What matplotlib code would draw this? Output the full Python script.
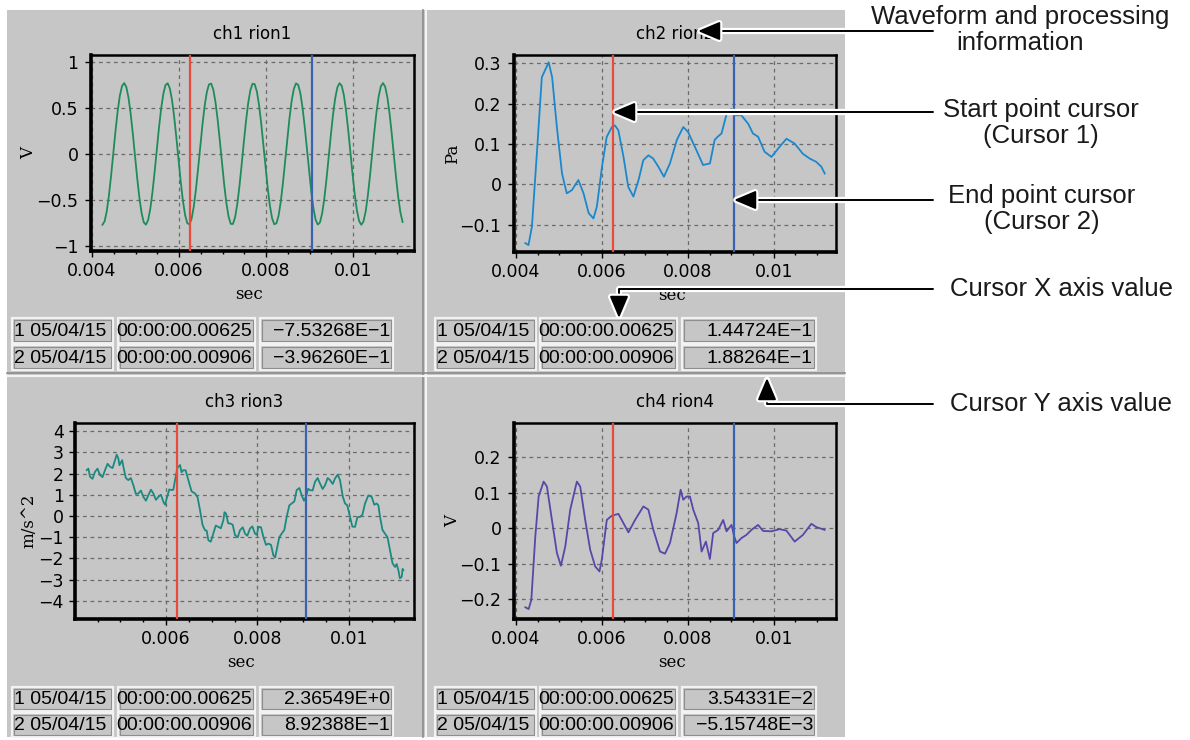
import numpy as np
import matplotlib
matplotlib.use("Agg")
from matplotlib import pyplot as plt
from matplotlib.patches import Rectangle, FancyArrowPatch
from matplotlib.lines import Line2D
from matplotlib.ticker import MultipleLocator, FuncFormatter
import matplotlib.patheffects as pe

# ---- data ----
# ch1: sampled every 0.05 ms starting at 4.24 ms
ch1_t0 = 0.00424
ch1_dt = 0.00005
ch1_v = [-0.770, -0.732, -0.621, -0.448, -0.231, 0.010, 0.249, 0.464, 0.632, 0.738,
         0.770, 0.725, 0.609, 0.432, 0.212, -0.029, -0.267, -0.479, -0.643, -0.743,
         -0.769, -0.719, -0.597, -0.416, -0.193, 0.049, 0.286, 0.494, 0.653, 0.748,
         0.768, 0.711, 0.584, 0.399, 0.174, -0.068, -0.304, -0.509, -0.664, -0.752,
         -0.766, -0.704, -0.571, -0.382, -0.155, 0.087, 0.321, 0.523, 0.673, 0.756,
         0.764, 0.696, 0.558, 0.365, 0.136, -0.107, -0.339, -0.537, -0.682, -0.760,
         -0.761, -0.687, -0.545, -0.348, -0.117, 0.126, 0.356, 0.551, 0.691, 0.763,
         0.758, 0.678, 0.531, 0.330, 0.097, -0.145, -0.374, -0.565, -0.700, -0.765,
         -0.754, -0.669, -0.517, -0.313, -0.078, 0.164, 0.390, 0.578, 0.707, 0.767,
         0.750, 0.659, 0.502, 0.295, 0.059, -0.183, -0.407, -0.590, -0.715, -0.768,
         -0.745, -0.648, -0.487, -0.277, -0.039, 0.202, 0.424, 0.603, 0.722, 0.769,
         0.740, 0.638, 0.472, 0.258, 0.020, -0.221, -0.440, -0.615, -0.729, -0.770,
         -0.735, -0.627, -0.456, -0.240, 0.000, 0.240, 0.455, 0.626, 0.735, 0.770,
         0.729, 0.615, 0.440, 0.221, -0.019, -0.258, -0.471, -0.637, -0.740]

ch2_t = [0.004217, 0.00429, 0.00437, 0.00449, 0.0046, 0.00476, 0.00484, 0.00495, 0.00507, 0.00518,
         0.0053, 0.00545, 0.00557, 0.00569, 0.0058, 0.00588, 0.006, 0.00611, 0.00623, 0.0063,
         0.00638, 0.0065, 0.00661, 0.00673, 0.00685, 0.00696, 0.00708, 0.00719, 0.00731, 0.00744,
         0.00758, 0.00774, 0.00789, 0.008, 0.00816, 0.00835, 0.00851, 0.00862, 0.00869, 0.00878,
         0.0089, 0.00901, 0.00909, 0.00924, 0.0094, 0.00951, 0.00963, 0.00978, 0.00994, 0.01013,
         0.01029, 0.01048, 0.01067, 0.01083, 0.01098, 0.0111, 0.01118]
ch2_v = [-0.145, -0.15, -0.104, 0.085, 0.265, 0.302, 0.265, 0.142, 0.027, -0.022,
         -0.014, 0.011, -0.022, -0.071, -0.084, -0.055, 0.044, 0.118, 0.142, 0.146,
         0.134, 0.068, -0.006, -0.03, 0.011, 0.06, 0.072, 0.064, 0.044, 0.019,
         0.052, 0.11, 0.142, 0.13, 0.093, 0.048, 0.052, 0.11, 0.118, 0.126,
         0.175, 0.187, 0.171, 0.171, 0.15, 0.126, 0.118, 0.081, 0.068, 0.093,
         0.113, 0.101, 0.076, 0.064, 0.056, 0.044, 0.027]

ch3_t = [0.004263, 0.0043, 0.004336, 0.00439, 0.004445, 0.0045, 0.004555, 0.00461, 0.004664, 0.00472,
         0.004774, 0.00483, 0.004883, 0.00492, 0.004956, 0.00498, 0.005007, 0.00504, 0.005066, 0.00512,
         0.005175, 0.00523, 0.005285, 0.00534, 0.005394, 0.00545, 0.005504, 0.00556, 0.005613, 0.00567,
         0.005723, 0.00578, 0.005832, 0.00589, 0.005942, 0.00598, 0.006015, 0.00607, 0.006124, 0.00616,
         0.006197, 0.00625, 0.006307, 0.00634, 0.00638, 0.00643, 0.006489, 0.00656, 0.006635, 0.00669,
         0.006745, 0.0068, 0.006854, 0.00689, 0.006927, 0.00698, 0.007036, 0.00709, 0.007146, 0.0072,
         0.007255, 0.00728, 0.007314, 0.00736, 0.007401, 0.00746, 0.007511, 0.00757, 0.00762, 0.00768,
         0.00773, 0.00778, 0.007839, 0.00789, 0.007949, 0.00799, 0.008022, 0.00808, 0.008131, 0.00819,
         0.008241, 0.0083, 0.00835, 0.00839, 0.008423, 0.00848, 0.008533, 0.00859, 0.008642, 0.0087,
         0.008752, 0.00881, 0.008861, 0.00892, 0.008971, 0.00902, 0.009066, 0.00911, 0.009153, 0.00921,
         0.009263, 0.00932, 0.009372, 0.00943, 0.009482, 0.00954, 0.009591, 0.00965, 0.009701, 0.00976,
         0.00981, 0.00987, 0.00992, 0.00997, 0.010029, 0.01008, 0.010139, 0.01019, 0.010248, 0.0103,
         0.010358, 0.01043, 0.010504, 0.01056, 0.010613, 0.01065, 0.010686, 0.01074, 0.010796, 0.01085,
         0.010905, 0.01096, 0.011015, 0.01105, 0.011088, 0.01112, 0.011161, 0.01118, 0.011197]
ch3_v = [2.16, 2.23, 1.85, 1.75, 2.08, 2.23, 1.93, 1.83, 2.16, 2.46,
         2.32, 2.26, 2.63, 2.89, 2.71, 2.39, 2.5, 2.63, 2.32, 1.79,
         1.69, 1.79, 1.45, 1.04, 1.06, 1.2, 0.9, 0.72, 0.98, 1.24,
         1.06, 0.76, 0.9, 1.0, 0.67, 0.53, 0.83, 1.25, 1.22, 1.24,
         1.69, 2.27, 2.4, 2.06, 2.16, 2.15, 1.69, 1.16, 1.06, 0.89,
         0.27, -0.42, -0.67, -0.69, -1.14, -1.21, -0.83, -0.45, -0.51, -0.58,
         -0.2, 0.18, 0.12, -0.34, -0.35, -0.41, -0.9, -1.0, -0.67, -0.53,
         -0.83, -0.93, -0.59, -0.49, -0.83, -0.89, -0.51, -0.53, -0.98, -1.36,
         -1.3, -1.36, -1.85, -1.95, -1.61, -1.0, -0.83, -0.66, -0.04, 0.5,
         0.59, 0.69, 1.22, 1.32, 0.98, 0.72, 0.9, 1.28, 1.22, 1.2,
         1.61, 1.79, 1.53, 1.27, 1.45, 1.79, 1.69, 1.51, 1.77, 1.95,
         1.69, 0.92, 0.59, 0.5, -0.04, -0.5, -0.51, -0.06, -0.04, 0.06,
         0.59, 0.97, 0.9, 0.53, 0.59, 0.5, -0.04, -0.66, -0.83, -1.0,
         -1.61, -2.23, -2.4, -2.26, -2.55, -2.93, -2.87, -2.49, -2.55]

ch4_t = [0.004217, 0.004294, 0.004356, 0.004449, 0.004526, 0.004642, 0.004719, 0.004835, 0.004951, 0.005044,
         0.005145, 0.005261, 0.005415, 0.005493, 0.005609, 0.005725, 0.005841, 0.005941, 0.005995, 0.006111,
         0.006227, 0.006382, 0.006498, 0.006614, 0.006769, 0.006962, 0.007078, 0.007194, 0.007349, 0.007465,
         0.007581, 0.007735, 0.007828, 0.007889, 0.007967, 0.008045, 0.008122, 0.008238, 0.008316, 0.008416,
         0.008509, 0.008586, 0.008702, 0.008818, 0.008896, 0.009012, 0.009073, 0.009128, 0.009244, 0.00936,
         0.009476, 0.00963, 0.009746, 0.00994, 0.010133, 0.010288, 0.010481, 0.010674, 0.010868, 0.010984,
         0.011177]
ch4_v = [-0.223, -0.228, -0.202, -0.023, 0.089, 0.131, 0.117, 0.023, -0.07, -0.106,
         -0.052, 0.052, 0.131, 0.117, 0.023, -0.061, -0.108, -0.122, -0.089, 0.023,
         0.035, 0.04, 0.014, -0.012, 0.023, 0.061, 0.052, -0.005, -0.066, -0.072,
         -0.042, 0.042, 0.108, 0.08, 0.089, 0.089, 0.052, 0.014, -0.066, -0.038,
         -0.087, -0.014, -0.005, 0.023, -0.009, 0.009, -0.023, -0.042, -0.028, -0.019,
         -0.005, 0.009, -0.008, -0.009, -0.003, -0.007, -0.038, -0.019, 0.012, 0.003,
         -0.005]

cursor1 = 0.00625
cursor2 = 0.00906

titles = ["ch1 rion1", "ch2 rion2", "ch3 rion3", "ch4 rion4"]
ylabels = ["V", "Pa", "m/s^2", "V"]
yticks = [[-1, -0.5, 0, 0.5, 1],
          [-0.1, 0, 0.1, 0.2, 0.3],
          [-4, -3, -2, -1, 0, 1, 2, 3, 4],
          [-0.2, -0.1, 0, 0.1, 0.2]]
dates = ["1 05/04/15", "2 05/04/15"]
times = ["00:00:00.00625", "00:00:00.00906"]
cursor_vals = [["−7.53268E−1", "−3.96260E−1"],
               ["1.44724E−1", "1.88264E−1"],
               ["2.36549E+0", "8.92388E−1"],
               ["3.54331E−2", "−5.15748E−3"]]

notes = ["Waveform and processing\ninformation",
         "Start point cursor\n(Cursor 1)",
         "End point cursor\n(Cursor 2)",
         "Cursor X axis value",
         "Cursor Y axis value"]

W, H = 1190, 740
GRAY = "#c6c6c6"
line_colors = ["#1e8c5a", "#1a88cc", "#1a8a80", "#5a46a8"]


def fx(x):
    return x / W


def fy(y):
    return 1 - y / H


fig = plt.figure(figsize=(W / 100, H / 100), dpi=100)
fig.patch.set_facecolor("white")

# gray window background + separators
fig.add_artist(Rectangle((fx(7), fy(737)), fx(845) - fx(7), fy(10) - fy(737),
                         transform=fig.transFigure, facecolor=GRAY, edgecolor="none", zorder=0))
fig.add_artist(Line2D([fx(423), fx(423)], [fy(10), fy(737)], color="#8c8c8c", lw=1.2, zorder=1))
fig.add_artist(Line2D([fx(426), fx(426)], [fy(10), fy(737)], color="#f4f4f4", lw=1.5, zorder=1))
fig.add_artist(Line2D([fx(7), fx(845)], [fy(373), fy(373)], color="#8c8c8c", lw=1.2, zorder=1))
fig.add_artist(Line2D([fx(7), fx(845)], [fy(376), fy(376)], color="#f4f4f4", lw=1.5, zorder=1))

# axes boxes in pixels (left, right, top, bottom) and x/y limits
boxes = [(91, 414, 55, 251), (514, 836, 55, 252), (75, 414, 423, 619), (514, 836, 423, 619)]
xlims = [(0.003977, 0.011402), (0.003953, 0.011442), (0.004007, 0.01143), (0.003953, 0.011442)]
ylims = [(-1.055, 1.075), (-0.167, 0.32), (-4.85, 4.38), (-0.256, 0.296)]
ylab_x = [-0.167, -0.165, -0.112, -0.165]

series = [(ch1_t0 + ch1_dt * np.arange(len(ch1_v)), ch1_v),
          (ch2_t, ch2_v), (ch3_t, ch3_v), (ch4_t, ch4_v)]

fmt = FuncFormatter(lambda v, p: ("%g" % v).replace("-", "−"))

for i in range(4):
    l, r, t, b = boxes[i]
    ax = fig.add_axes([fx(l), fy(b), fx(r) - fx(l), fy(t) - fy(b)])
    ax.set_facecolor(GRAY)
    x, y = series[i]
    ax.plot(x, y, color=line_colors[i], lw=1.3, zorder=3)
    ax.axvline(cursor1, color="#e84a3c", lw=1.6, zorder=4)
    ax.axvline(cursor2, color="#3a62b0", lw=1.6, zorder=4)
    ax.set_xlim(*xlims[i])
    ax.set_ylim(*ylims[i])
    ax.xaxis.set_major_locator(MultipleLocator(0.002))
    ax.xaxis.set_minor_locator(MultipleLocator(0.0005))
    ax.set_yticks(yticks[i])
    ax.xaxis.set_major_formatter(fmt)
    ax.yaxis.set_major_formatter(fmt)
    ax.grid(True, which="major", color="#6a6a6a", lw=0.9, linestyle=(0, (3, 3)))
    ax.tick_params(which="major", direction="out", length=4, width=1, labelsize=12.5, pad=4)
    ax.tick_params(which="minor", direction="out", length=2.5, width=1)
    ax.tick_params(axis="y", pad=4 if i == 2 else 5)
    for s in ["left", "bottom"]:
        ax.spines[s].set_linewidth(2.6)
    for s in ["top", "right"]:
        ax.spines[s].set_linewidth(1.8)
    ax.set_xlabel("sec", fontsize=12, family="DejaVu Serif")
    ax.xaxis.set_label_coords(0.49, -0.18)
    ax.set_ylabel(ylabels[i], fontsize=12, family="DejaVu Serif")
    ax.yaxis.set_label_coords(ylab_x[i], 0.5)
    ax.text(0.5, 1.107, titles[i], transform=ax.transAxes, ha="center", va="center", fontsize=12)

# cursor value tables
table_cols = [[(12, 113), (118, 255), (260, 393)], [(435, 536), (540, 677), (682, 816)]]
table_rows = [[(318, 343), (345, 370)], [(687, 711), (713, 737)]]
for i in range(4):
    cols = table_cols[i % 2]
    rows = table_rows[i // 2]
    for j in range(2):
        y0, y1 = rows[j]
        cells = [dates[j], times[j], cursor_vals[i][j]]
        for k in range(3):
            x0, x1 = cols[k]
            fig.add_artist(Rectangle((fx(x0), fy(y1)), fx(x1) - fx(x0), fy(y0) - fy(y1),
                                     transform=fig.transFigure, facecolor=GRAY,
                                     edgecolor="#f2f2f2", lw=1.6, zorder=2))
            fig.add_artist(Rectangle((fx(x0 + 2), fy(y1 - 2)), fx(x1 - 2) - fx(x0 + 2), fy(y0 + 2) - fy(y1 - 2),
                                     transform=fig.transFigure, facecolor="none",
                                     edgecolor="#8e8e8e", lw=0.8, zorder=2))
            if k == 0:
                fig.text(fx(x0 + 2), fy((y0 + y1) / 2 + 1), cells[k], ha="left", va="center",
                         fontsize=14, family="Liberation Sans", zorder=3)
            else:
                fig.text(fx(x1 - 3), fy((y0 + y1) / 2 + 1), cells[k], ha="right", va="center",
                         fontsize=14, family="Liberation Sans", zorder=3)

# callouts on the right
note_pos = [(1020, 30), (1041, 123), (1042, 209), (1062, 289), (1061, 404)]
for txt, (x, y) in zip(notes, note_pos):
    fig.text(fx(x), fy(y), txt, ha="center", va="center", fontsize=18.5,
             family="Liberation Sans", linespacing=1.15, color="#1a1a1a")

arrows = [((933, 31), (698, 31), "arc3"),
          ((933, 112), (613, 112), "arc3"),
          ((933, 200), (734, 200), "arc3"),
          ((933, 289), (619, 318), "angle,angleA=0,angleB=90,rad=0"),
          ((933, 404), (767, 378), "angle,angleA=0,angleB=90,rad=0")]
for (xa, ya), (xb, yb), cs in arrows:
    arr = FancyArrowPatch((fx(xa), fy(ya)), (fx(xb), fy(yb)), transform=fig.transFigure,
                          arrowstyle="-|>,head_length=0.9,head_width=0.38", mutation_scale=15,
                          connectionstyle=cs, color="black", lw=1.4,
                          shrinkA=0, shrinkB=0, zorder=10)
    arr.set_path_effects([pe.withStroke(linewidth=4.5, foreground="white")])
    fig.add_artist(arr)

plt.savefig("out.png", dpi=100, facecolor="white")
